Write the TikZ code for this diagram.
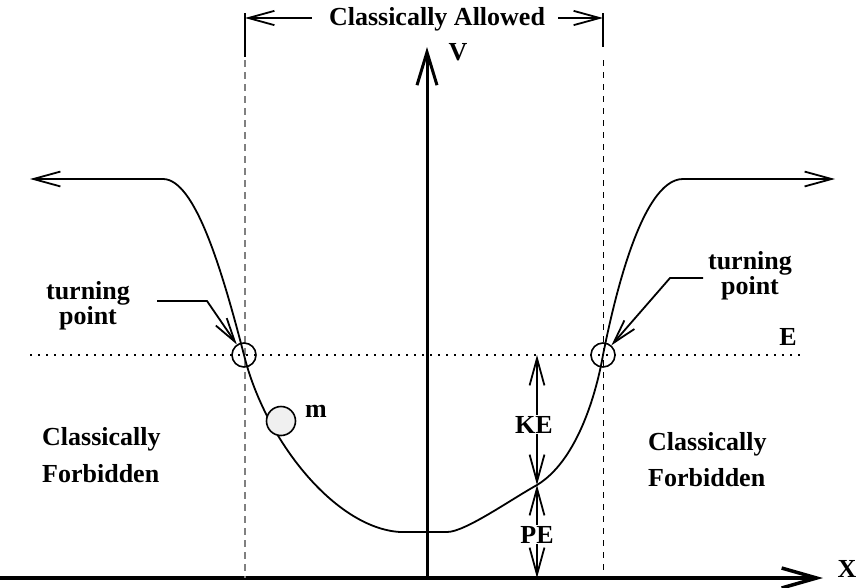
\documentclass[tikz,border=0pt]{standalone}
\usepackage{fontspec}
\setmainfont{Liberation Serif}
\usetikzlibrary{arrows.meta}
\begin{document}
\begin{tikzpicture}[x=1pt,y=-1pt,
  lbl/.style={font=\fontsize{26}{20}\selectfont\bfseries, inner sep=0pt},
  thin line/.style={line width=1.8pt},
  barb/.style={-{Straight Barb[length=#1pt,width=#1*0.55pt]}},
  dbarb/.style={{Straight Barb[length=#1pt,width=#1*0.55pt]}-{Straight Barb[length=#1pt,width=#1*0.55pt]}},
  tp/.style={circle, draw, line width=1.6pt, minimum size=24pt, inner sep=0pt}]
\useasboundingbox (0,0) rectangle (859,587);
% axes
\coordinate (xs) at (0,578);
\coordinate (xe) at (823,578);
\coordinate (vs) at (427,578);
\coordinate (ve) at (427,47);
\draw[line width=3.5pt, -{Straight Barb[length=35pt,width=20pt]}] (xs) -- (xe);
\draw[line width=3pt, -{Straight Barb[length=33pt,width=20pt]}] (vs) -- (ve);
\node[lbl, anchor=base] (X) at (847,577) {X};
\node[lbl, anchor=base] (V) at (458,60) {V};
% dashed boundaries
\draw[gray, line width=1.5pt, dash pattern=on 7pt off 5pt] (245,60) -- (245,578);
\draw[line width=1pt, dash pattern=on 6pt off 6pt] (603,60) -- (603,578);
\draw[thin line] (245,13) -- (245,57);
\draw[thin line] (603,13) -- (603,47);
% classically allowed
\node[lbl, anchor=base] (allowed) at (437,25) {Classically Allowed};
\coordinate (aL) at (245,18);
\coordinate (aR) at (603,18);
\draw[thin line, barb=26] (allowed.west |- aL) ++(-17,0) -- (aL);
\draw[thin line, barb=26] (allowed.east |- aR) ++(13,0) -- (aR);
% energy line
\draw[line width=2pt, dash pattern=on 2pt off 6pt] (30,355) -- (805,355);
\node[lbl, anchor=base] (E) at (788,345) {E};
% potential curve
\coordinate (lh) at (163,179);
\coordinate (la) at (30,179);
\coordinate (rh) at (683,179);
\coordinate (ra) at (835,179);
\draw[thin line, barb=27] (lh) -- (la);
\draw[thin line, barb=27] (rh) -- (ra);
\draw[thin line, line join=round] (lh) .. controls (195,179) and (222,270) .. (244,355)
  .. controls (265,440) and (335,528) .. (400,532)
  -- (447,532)
  .. controls (465,532) and (510,500) .. (537,485)
  .. controls (575,462) and (595,400) .. (603,355)
  .. controls (612,310) and (640,179) .. (rh);
% turning points
\node[tp] (tpL) at (244,355) {};
\node[tp] (tpR) at (603,355) {};
\node[lbl, align=center] (tlL) at (88,306) {turning\\point};
\node[lbl, align=center] (tlR) at (750,276) {turning\\point};
\coordinate (kL) at (207,301);
\coordinate (kR) at (670,278);
\draw[thin line, barb=24] (157,301) -- (kL) -- (tpL);
\draw[thin line, barb=24] (703,278) -- (kR) -- (tpR);
% mass
\node[circle, draw, line width=1.6pt, fill=gray!12, minimum size=29pt, inner sep=0pt] (ball) at (281,421) {};
\node[lbl, anchor=base] (m) at (316,417) {m};
% KE / PE
\coordinate (kt) at (537,355);
\coordinate (km) at (537,485);
\coordinate (kb) at (537,578);
\draw[thin line, dbarb=27] (kt) -- (km);
\draw[thin line, dbarb=27] (km) -- (kb);
\node[lbl, anchor=base, fill=white, inner sep=1pt] (KE) at (534,433) {KE};
\node[lbl, anchor=base, fill=white, inner sep=1pt] (PE) at (537,543) {PE};
% forbidden labels
\node[lbl, anchor=base west] (cfL1) at (42,445) {Classically};
\node[lbl, anchor=base west] (cfL2) at (42,482) {Forbidden};
\node[lbl, anchor=base west] (cfR1) at (648,450) {Classically};
\node[lbl, anchor=base west] (cfR2) at (648,486) {Forbidden};
\end{tikzpicture}
\end{document}
